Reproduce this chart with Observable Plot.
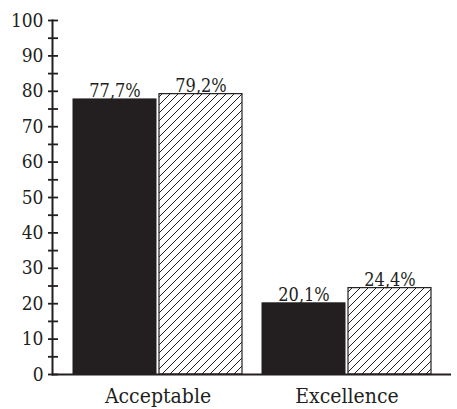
<!DOCTYPE html>
<html>
<head>
<meta charset="utf-8">
<script src="https://cdn.jsdelivr.net/npm/d3@7"></script>
<script src="https://cdn.jsdelivr.net/npm/@observablehq/plot@0.6"></script>
<style>
  html, body { margin: 0; padding: 0; background: #fff; }
  svg text { font-family: "DejaVu Serif Condensed", "DejaVu Serif", serif !important; font-stretch: condensed; }
</style>
</head>
<body>
<div id="chart"></div>
<script>
const categories = ["Acceptable", "Excellence"];
const seriesA = [77.7, 20.1];   // solid black bars
const seriesB = [79.2, 24.4];   // hatched bars
const majorTicks = [0, 10, 20, 30, 40, 50, 60, 70, 80, 90, 100];
const allTicks = d3.range(0, 101, 5);

const W = 457, H = 409, ML = 52, MR = 6, MT = 20, MB = 35;
const ink = "#231f20";
const fmt = v => v.toFixed(1).replace(".", ",") + "%";

const dataA = categories.map((c, i) => ({cat: c, v: seriesA[i]}));
const dataB = categories.map((c, i) => ({cat: c, v: seriesB[i]}));

const plot = Plot.plot({
  width: W, height: H,
  marginLeft: ML, marginRight: MR, marginTop: MT, marginBottom: MB,
  style: {background: "#fff", color: ink, fontSize: "19px"},
  x: {domain: categories, paddingInner: 0.108, paddingOuter: 0.106, label: null},
  y: {domain: [0, 100], label: null},
  marks: [
    Plot.barY(dataA, {x: "cat", y: "v", fill: ink, stroke: ink, strokeWidth: 1, insetRight: 86}),
    Plot.barY(dataB, {x: "cat", y: "v", fill: "url(#hatch)", stroke: ink, strokeWidth: 1.2, insetLeft: 86}),
    Plot.text(dataA, {x: "cat", y: "v", text: d => fmt(d.v), dx: -43, dy: -2, lineAnchor: "bottom", fontSize: 18, fill: ink}),
    Plot.text(dataB, {x: "cat", y: "v", text: d => fmt(d.v), dx: 43, dy: -2, lineAnchor: "bottom", fontSize: 18, fill: ink}),
    Plot.tickY(allTicks, {y: d => d, stroke: ink, strokeWidth: 1.8, insetLeft: -4, insetRight: (W - ML - MR) - 6}),
    Plot.axisY({ticks: majorTicks, tickSize: 0, tickPadding: 9, label: null, fontSize: 19, fill: ink}),
    Plot.axisX({tickSize: 0, tickPadding: 14, label: null, fontSize: 21, fill: ink}),
    Plot.frame({anchor: "left", stroke: ink, strokeWidth: 2}),
    Plot.ruleY([0], {stroke: ink, strokeWidth: 2})
  ]
});

const svg = d3.select(plot);
const defs = svg.insert("defs", ":first-child");
const pat = defs.append("pattern")
  .attr("id", "hatch")
  .attr("patternUnits", "userSpaceOnUse")
  .attr("width", 8).attr("height", 8);
pat.append("rect").attr("width", 8).attr("height", 8).attr("fill", "#fff");
pat.append("path")
  .attr("d", "M-2,2 L2,-2 M0,8 L8,0 M6,10 L10,6")
  .attr("stroke", ink).attr("stroke-width", 1);

document.getElementById("chart").appendChild(plot);
</script>
</body>
</html>
